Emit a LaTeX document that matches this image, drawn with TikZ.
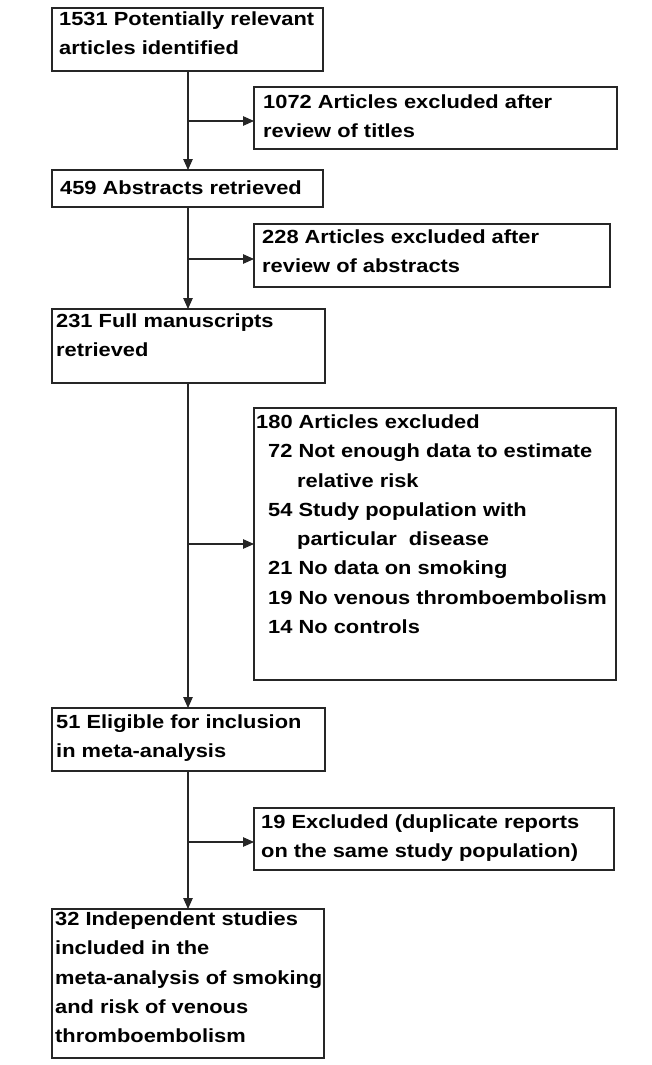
\documentclass[tikz,border=0pt]{standalone}
\usepackage{fontspec}
\newfontfamily\figfont{Liberation Sans}[FakeStretch=1.15]
\usetikzlibrary{arrows.meta}
\tikzset{
  box/.style={draw=black!85, line width=1.6pt, anchor=north west, inner sep=0pt, outer sep=0pt},
  txt/.style={font={\figfont\bfseries\fontsize{19}{29.3}\selectfont}, align=left, inner sep=0pt, anchor=north west, execute at begin node={\strut}},
  conn/.style={draw=black!85, line width=1.1pt},
  arr/.style={conn, -{Triangle[length=11pt,width=9.5pt]}}
}
\begin{document}
\begin{tikzpicture}[x=1pt,y=-1pt]
\fill[white] (0,0) rectangle (651,1065);
\useasboundingbox (0,0) rectangle (651,1065);
% boxes
\node[box, minimum width=271pt, minimum height=63pt] (b1) at (52,8) {};
\node[box, minimum width=363pt, minimum height=62pt] (b2) at (254,87) {};
\node[box, minimum width=271pt, minimum height=37pt] (b3) at (52,170) {};
\node[box, minimum width=356pt, minimum height=63pt] (b4) at (254,224) {};
\node[box, minimum width=273pt, minimum height=74pt] (b5) at (52,309) {};
\node[box, minimum width=362pt, minimum height=272pt] (b6) at (254,408) {};
\node[box, minimum width=273pt, minimum height=63pt] (b7) at (52,708) {};
\node[box, minimum width=360pt, minimum height=62pt] (b8) at (254,808) {};
\node[box, minimum width=272pt, minimum height=149pt] (b9) at (52,909) {};
% texts
\node[txt] (t1) at (59,11.5) {1531 Potentially relevant\\articles identified};
\node[txt] (t2) at (263,94.5) {1072 Articles excluded after\\review of titles};
\node[txt] (t3) at (60,173.5) {459 Abstracts retrieved};
\node[txt] (t4) at (262,229.5) {228 Articles excluded after\\review of abstracts};
\node[txt] (t5) at (56,313.5) {231 Full manuscripts\\retrieved};
\node[txt] (t6) at (256,414.5) {180 Articles excluded\\
\hspace*{12pt}72 Not enough data to estimate\\
\hspace*{41pt}relative risk\\
\hspace*{12pt}54 Study population with\\
\hspace*{41pt}particular\ \ disease\\
\hspace*{12pt}21 No data on smoking\\
\hspace*{12pt}19 No venous thromboembolism\\
\hspace*{12pt}14 No controls};
\node[txt] (t7) at (56,714.5) {51 Eligible for inclusion\\in meta-analysis};
\node[txt] (t8) at (261,814.5) {19 Excluded (duplicate reports\\on the same study population)};
\node[txt] (t9) at (55,911.5) {32 Independent studies\\included in the\\meta-analysis of smoking\\and risk of venous\\thromboembolism};
% spine and junctions
\coordinate (spine) at (188,0);
\coordinate (j1) at (188,121);
\coordinate (j2) at (188,259);
\coordinate (j3) at (188,544);
\coordinate (j4) at (188,842);
\draw[arr] (b1.south -| spine) -- (b3.north -| spine);
\draw[arr] (b3.south -| spine) -- (b5.north -| spine);
\draw[arr] (b5.south -| spine) -- (b7.north -| spine);
\draw[arr] (b7.south -| spine) -- (b9.north -| spine);
\draw[arr] (j1) -- (j1 -| b2.west);
\draw[arr] (j2) -- (j2 -| b4.west);
\draw[arr] (j3) -- (j3 -| b6.west);
\draw[arr] (j4) -- (j4 -| b8.west);
\end{tikzpicture}
\end{document}
